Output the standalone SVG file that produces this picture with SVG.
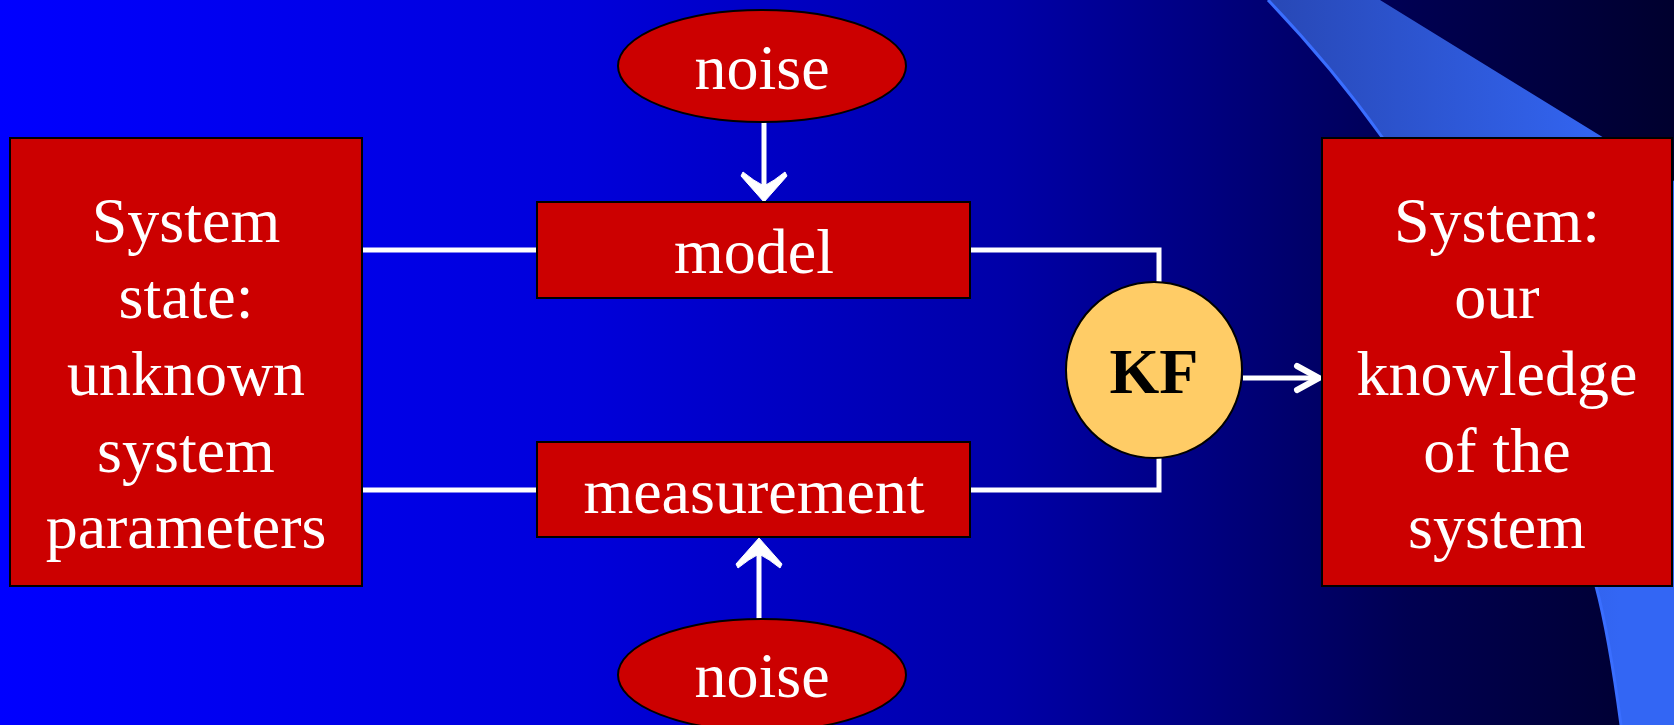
<svg xmlns="http://www.w3.org/2000/svg" width="1674" height="725" viewBox="0 0 1674 725">
  <defs>
    <linearGradient id="bg" x1="0" y1="0" x2="1674" y2="0" gradientUnits="userSpaceOnUse">
      <stop offset="0" stop-color="#0000FF"/>
      <stop offset="0.35" stop-color="#0000DA"/>
      <stop offset="0.6" stop-color="#0000A8"/>
      <stop offset="0.72" stop-color="#000080"/>
      <stop offset="0.84" stop-color="#000052"/>
      <stop offset="1" stop-color="#00002E"/>
    </linearGradient>
    <linearGradient id="swoosh" x1="1270" y1="0" x2="1620" y2="0" gradientUnits="userSpaceOnUse">
      <stop offset="0" stop-color="#2848B6"/>
      <stop offset="1" stop-color="#3366F4"/>
    </linearGradient>
    <style>
      .box { fill: #CC0000; stroke: #000000; stroke-width: 2; }
      .kf { fill: #FFCC66; stroke: #000000; stroke-width: 2; }
      .label { font-family: "Liberation Serif", "Times New Roman", serif; font-size: 64px; fill: #FFFFFF; text-anchor: middle; }
      .kflabel { font-family: "Liberation Serif", "Times New Roman", serif; font-size: 64px; font-weight: bold; fill: #000000; text-anchor: middle; }
      .wire { fill: none; stroke: #FFFFFF; stroke-width: 5; }
      .barb { fill: #FFFFFF; stroke: #FFFFFF; stroke-width: 1; stroke-linejoin: round; }
      .head { fill: none; stroke: #FFFFFF; stroke-width: 6; stroke-linecap: round; stroke-linejoin: miter; }
    </style>
  </defs>

  <!-- backdrop -->
  <rect x="0" y="0" width="1674" height="725" fill="url(#bg)"/>
  <path d="M1380,0 L1674,181 L1674,725 L1621,725 C1615,680 1608,631 1596,586 C1560,420 1466,267 1382,137 C1350,92 1311,45 1268,0 Z" fill="url(#swoosh)"/>
  <path d="M1268,0 C1311,45 1350,92 1382,137 C1466,267 1560,420 1596,586 C1608,631 1615,680 1621,725" fill="none" stroke="#3A6EFF" stroke-width="3"/>

  <!-- connectors -->
  <g id="connectors">
    <line class="wire" x1="362" y1="250" x2="537" y2="250"/>
    <line class="wire" x1="362" y1="490" x2="537" y2="490"/>
    <polyline class="wire" points="970,250 1159,250 1159,283"/>
    <polyline class="wire" points="970,490 1159,490 1159,457"/>
    <line class="wire" x1="764" y1="122" x2="764" y2="190"/>
    <path class="barb" d="M764,202 L741,176 L743,172 Q754,181 764,186 Q774,181 785,172 L787,176 Z"/>
    <line class="wire" x1="759" y1="619" x2="759" y2="550"/>
    <path class="barb" d="M759,538 L736,564 L738,568 Q749,559 759,554 Q769,559 780,568 L782,564 Z"/>
    <line class="wire" x1="1243" y1="378" x2="1318" y2="378"/>
    <polyline class="head" points="1297,366 1319,378 1297,390"/>
  </g>

  <g id="system-state">
    <rect class="box" x="10" y="138" width="352" height="448"/>
    <text class="label" x="186" y="242">System</text>
    <text class="label" x="186" y="318">state:</text>
    <text class="label" x="186" y="395">unknown</text>
    <text class="label" x="186" y="472">system</text>
    <text class="label" x="186" y="548">parameters</text>
  </g>

  <g id="noise-top">
    <ellipse class="box" cx="762" cy="66" rx="144" ry="56"/>
    <text class="label" x="762" y="89">noise</text>
  </g>

  <g id="model">
    <rect class="box" x="537" y="202" width="433" height="96"/>
    <text class="label" x="754" y="273">model</text>
  </g>

  <g id="measurement">
    <rect class="box" x="537" y="442" width="433" height="95"/>
    <text class="label" x="754" y="513">measurement</text>
  </g>

  <g id="noise-bottom">
    <ellipse class="box" cx="762" cy="675" rx="144" ry="56"/>
    <text class="label" x="762" y="697">noise</text>
  </g>

  <g id="kalman-filter">
    <circle class="kf" cx="1154" cy="370" r="88"/>
    <text class="kflabel" x="1154" y="393">KF</text>
  </g>

  <g id="system-knowledge">
    <rect class="box" x="1322" y="138" width="350" height="448"/>
    <text class="label" x="1497" y="242">System:</text>
    <text class="label" x="1497" y="318">our</text>
    <text class="label" x="1497" y="395">knowledge</text>
    <text class="label" x="1497" y="472">of the</text>
    <text class="label" x="1497" y="548">system</text>
  </g>
</svg>
